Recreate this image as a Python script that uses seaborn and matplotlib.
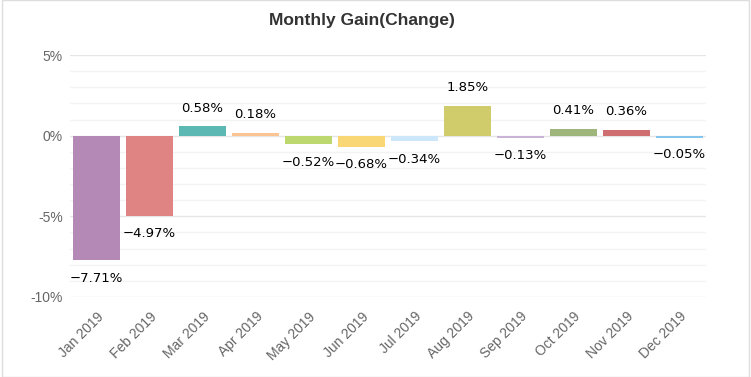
import matplotlib
matplotlib.use('Agg')
import matplotlib.pyplot as plt
import pandas as pd
import seaborn as sns
from matplotlib.patches import Rectangle
from matplotlib.ticker import MultipleLocator, FuncFormatter


MONTHS = ['Jan 2019', 'Feb 2019', 'Mar 2019', 'Apr 2019', 'May 2019', 'Jun 2019',
          'Jul 2019', 'Aug 2019', 'Sep 2019', 'Oct 2019', 'Nov 2019', 'Dec 2019']
GAIN = [-7.71, -4.97, 0.58, 0.18, -0.52, -0.68, -0.34, 1.85, -0.13, 0.41, 0.36, -0.05]
COLORS = ['#b589b6', '#e08383', '#5cb8b3', '#fcc393', '#bcd86f', '#f8d774',
          '#cde7fa', '#d0cb6b', '#c9b3d6', '#9eb67c', '#cf6e70', '#84c3ea']


def main():
    df = pd.DataFrame({'Month': MONTHS, 'Gain': GAIN})

    sns.set_style('white')
    plt.rcParams['font.family'] = ['Liberation Sans', 'DejaVu Sans']
    fig = plt.figure(figsize=(7.51, 3.77), dpi=100)
    ax = fig.add_axes([70 / 751, 1 - 297 / 377, 636 / 751, 242 / 377])

    sns.barplot(data=df, x='Month', y='Gain', hue='Month', palette=COLORS,
                width=0.88, legend=False, ax=ax, saturation=1,
                linewidth=0, zorder=3)

    # keep the tiny bars visible (about 2 px at least)
    for p in ax.patches:
        h = p.get_height()
        if abs(h) < 0.13:
            p.set_height(0.13 if h >= 0 else -0.13)

    ax.set_ylim(-10, 5)
    ax.set_xlim(-0.5, len(MONTHS) - 0.5)
    ax.yaxis.set_major_locator(MultipleLocator(5))
    ax.yaxis.set_minor_locator(MultipleLocator(1))
    ax.yaxis.set_major_formatter(FuncFormatter(lambda v, p: '%d%%' % v))
    ax.grid(True, which='major', axis='y', color='#e6e6e6', linewidth=1, zorder=0)
    ax.grid(True, which='minor', axis='y', color='#f3f3f3', linewidth=1, zorder=0)
    ax.set_axisbelow(True)
    ax.tick_params(axis='both', which='both', length=0, colors='#666666', labelsize=10)
    ax.tick_params(axis='y', pad=5)
    ax.tick_params(axis='x', pad=9)
    ax.set_xlabel('')
    ax.set_ylabel('')
    sns.despine(ax=ax, top=True, right=True, left=True, bottom=True)

    for lbl in ax.get_xticklabels():
        lbl.set_rotation(45)
        lbl.set_ha('right')
        lbl.set_rotation_mode('anchor')

    # data labels
    for i, v in enumerate(GAIN):
        off = 13 if v >= 0 else -13
        txt = ('%.2f%%' % v).replace('-', '\u2212')
        ax.annotate(txt, xy=(i, v), xytext=(0, off),
                    textcoords='offset points', ha='center', va='center',
                    fontsize=9.5, color='black', family='DejaVu Sans', zorder=5)

    fig.text(362 / 751, 1 - 21 / 377, 'Monthly Gain(Change)', ha='center', va='center',
             fontsize=12.5, fontweight='bold', color='#333333')

    fig.patches.append(Rectangle((0.003, 0), 0.994, 0.999, transform=fig.transFigure,
                                 fill=False, edgecolor='#dddddd', linewidth=1))

    fig.savefig('out.png', dpi=100)
    plt.close(fig)


if __name__ == '__main__':
    main()
